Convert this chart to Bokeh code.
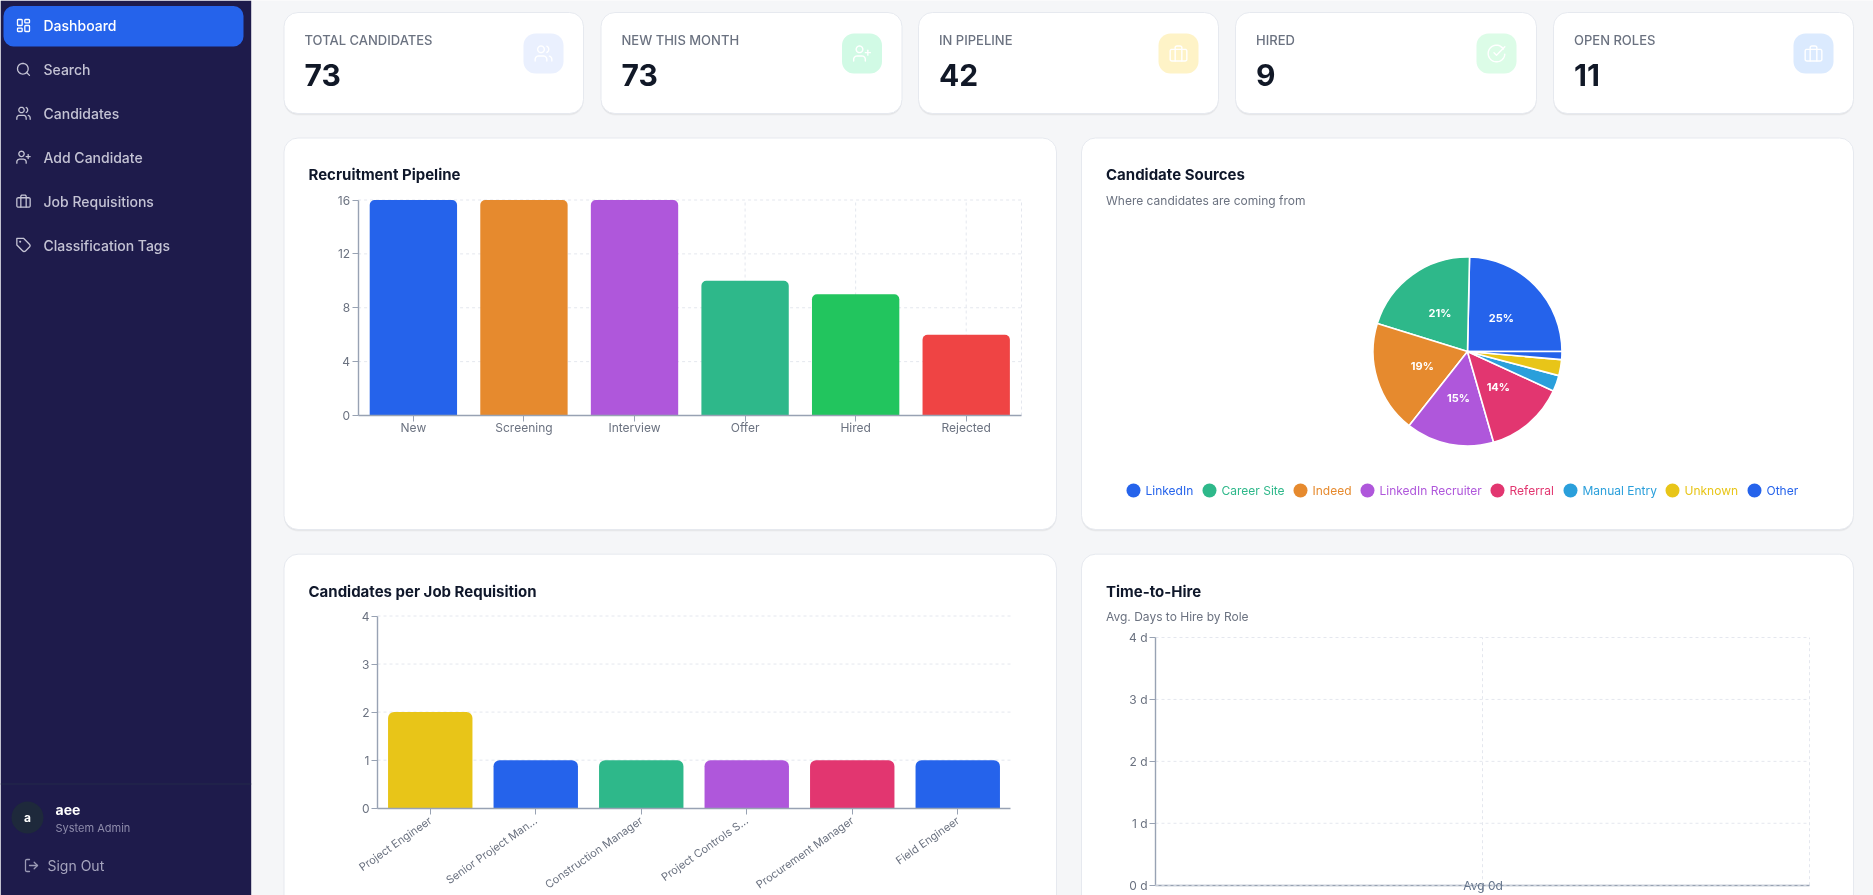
import math
from bokeh.core.properties import value
from bokeh.embed import file_html
from bokeh.resources import INLINE
from bokeh.models import BoxAnnotation, ColumnDataSource, FixedTicker, Label, LinearAxis, Range1d
from bokeh.plotting import figure

# ---------- data ----------
nav_items = ["Dashboard", "Search", "Candidates", "Add Candidate", "Job Requisitions", "Classification Tags"]
stat_labels = ["TOTAL CANDIDATES", "NEW THIS MONTH", "IN PIPELINE", "HIRED", "OPEN ROLES"]
stat_values = ["73", "73", "42", "9", "11"]

pipeline_stages = ["New", "Screening", "Interview", "Offer", "Hired", "Rejected"]
pipeline_counts = [16, 16, 16, 10, 9, 6]
pipeline_ticks = [0, 4, 8, 12, 16]

source_names = ["LinkedIn", "Career Site", "Indeed", "LinkedIn Recruiter", "Referral",
                "Manual Entry", "Unknown", "Other"]
source_counts = [18, 15, 14, 11, 10, 2, 2, 1]

req_roles = ["Project Engineer", "Senior Project Man...", "Construction Manager",
             "Project Controls S...", "Procurement Manager", "Field Engineer"]
req_counts = [2, 1, 1, 1, 1, 1]
req_ticks = [0, 1, 2, 3, 4]

hire_roles = ["Project Engineer"]
hire_days = [0]
hire_ticks = [0, 1, 2, 3, 4]

# ---------- styling ----------
FONT = "Inter"
FONT_MED = "Inter Medium"
PAGE = "#f5f6f8"
BLUE, TEAL, ORANGE, PURPLE, PINK, CYAN, YELLOW, GREEN, RED = (
    "#2563eb", "#2eb88a", "#e68a2e", "#af57db", "#e23670", "#2a9fdb", "#e8c518", "#22c55e", "#ef4444")
pipeline_colors = [BLUE, ORANGE, PURPLE, TEAL, GREEN, RED]
source_colors = [BLUE, TEAL, ORANGE, PURPLE, PINK, CYAN, YELLOW, BLUE]
req_colors = [YELLOW, BLUE, TEAL, PURPLE, PINK, BLUE]
GRID = "#e4e7ee"
AXIS = "#98a2b3"
TICKTXT = "#6b7280"
INK = "#0f172a"
DASH = value([3, 3])
W, H = 1873, 895

# One page-sized figure: its primary ranges are page pixels (y negated).
p = figure(width=W, height=H, output_backend="svg", toolbar_location=None, margin=0, min_border=0,
           x_range=Range1d(0, W), y_range=Range1d(-H, 0), x_axis_type=None, y_axis_type=None,
           styles={"position": "fixed", "left": "0px", "top": "0px"})
p.grid.visible = False
p.background_fill_color = PAGE
p.border_fill_color = PAGE
p.outline_line_color = None


def box(l, t, r, b, color, radius=0, alpha=1.0, line=None):
    p.add_layout(BoxAnnotation(left=l, right=r, top=-t, bottom=-b, fill_color=color, fill_alpha=alpha,
                               line_color=line, line_width=1, line_alpha=1 if line else 0,
                               border_radius=radius, level="image"))


def card(l, t, r, b):
    box(l, t + 2, r, b + 2, "#000000", 14, 0.035)
    box(l, t + 1, r, b + 1, "#000000", 14, 0.05)
    box(l, t, r, b, "#ffffff", 14, 1.0, "#e6e9ef")


def text(x, y, s, size, color=INK, style="normal", align="left", baseline="middle", font=FONT):
    p.add_layout(Label(x=x, y=-(y - 1), text=s, text_font=font, text_font_size=f"{size}px", text_color=color,
                       text_font_style=style, text_align=align, text_baseline=baseline))


def chart_axes(name, fl, ft, fr, fb, factors, ymax, yticks, yfmt=None, verticals=True,
               x_standoff=2, x_size="12px"):
    """Maps a chart's values onto the page box (fl,ft)-(fr,fb) through its own ranges and axes."""
    n = len(factors)
    xn, yn = name + "x", name + "y"
    p.extra_x_ranges[xn] = Range1d((0 - fl) / (fr - fl) * n, (W - fl) / (fr - fl) * n)
    p.extra_y_ranges[yn] = Range1d((fb - H) / (fb - ft) * ymax, fb / (fb - ft) * ymax)
    centers = [i + 0.5 for i in range(n)]

    grid = dict(line_color=GRID, line_dash=DASH, line_width=1, x_range_name=xn, y_range_name=yn)
    yt = [t for t in yticks if t != 0]
    p.segment(x0=[0] * len(yt), x1=[n] * len(yt), y0=yt, y1=yt, **grid)
    if verticals:
        xt = centers + [n]
        p.segment(x0=xt, x1=xt, y0=[0] * len(xt), y1=[ymax] * len(xt), **grid)

    style = dict(axis_line_color=AXIS, axis_line_width=1.4, major_tick_line_color=AXIS, major_tick_out=6,
                 major_tick_in=0, minor_tick_out=0, minor_tick_in=0, major_label_text_font=FONT,
                 major_label_text_color=TICKTXT)
    xa = LinearAxis(x_range_name=xn, fixed_location=-fb, bounds=(0, n), ticker=FixedTicker(ticks=centers),
                    major_label_overrides={c: f for c, f in zip(centers, factors)},
                    major_label_standoff=x_standoff, major_label_text_font_size=x_size, **style)
    ya = LinearAxis(y_range_name=yn, fixed_location=fl, bounds=(0, ymax), ticker=FixedTicker(ticks=yticks),
                    major_label_standoff=2, major_label_text_font_size="12px", **style)
    if yfmt:
        ya.major_label_overrides = {t: yfmt.format(t) for t in yticks}
    p.add_layout(xa, "below")
    p.add_layout(ya, "left")
    return xn, yn, centers, xa


# ---------- icons (lucide-style outlines on a 24-unit grid) ----------
def arc(cx, cy, r, a0, a1, n=14):
    return [(cx + r * math.cos(math.radians(a0 + (a1 - a0) * i / n)),
             cy + r * math.sin(math.radians(a0 + (a1 - a0) * i / n))) for i in range(n + 1)]


def rrect(x, y, w, h, r):
    return (arc(x + r, y + r, r, 180, 270, 5) + arc(x + w - r, y + r, r, 270, 360, 5) +
            arc(x + w - r, y + h - r, r, 0, 90, 5) + arc(x + r, y + h - r, r, 90, 180, 5) + [(x, y + r)])


SHOULDERS = [(16, 21), (16, 19)] + arc(12, 19, 4, 0, -90, 6) + arc(6, 19, 4, -90, -180, 6) + [(2, 21)]
ICONS = {
    "dashboard": [rrect(3, 3, 7, 9, 1), rrect(14, 3, 7, 5, 1), rrect(14, 12, 7, 9, 1), rrect(3, 16, 7, 5, 1)],
    "search": [arc(11, 11, 8, 0, 360, 32), [(21, 21), (16.65, 16.65)]],
    "users": [SHOULDERS, arc(9, 7, 4, 0, 360, 24), [(22, 21), (22, 19)] + arc(18, 19, 4, 0, -75, 5),
              arc(14.1, 7, 4.2, -62, 62, 8)],
    "userplus": [SHOULDERS, arc(9, 7, 4, 0, 360, 24), [(19, 8), (19, 14)], [(22, 11), (16, 11)]],
    "briefcase": [rrect(2, 7, 20, 14, 2), [(16, 21), (16, 5)] + arc(14, 5, 2, 0, -90, 5) + arc(10, 5, 2, -90, -180, 5) + [(8, 21)]],
    "tag": [[(12, 2), (2, 2), (2, 12), (11.3, 21.3), (12.7, 22), (14.7, 21.3), (21.3, 14.7), (22, 13), (21.3, 11.3), (12, 2)],
            arc(7, 7, .6, 0, 360, 10)],
    "check": [arc(12, 12, 10, 5, 327, 40) + [(16.07, 2.86)], [(22, 4), (12, 14.01), (9, 11.01)]],
    "logout": [[(9, 21), (5, 21)] + arc(5, 19, 2, 90, 180, 5) + [(3, 5)] + arc(5, 5, 2, 180, 270, 5) + [(9, 3)],
               [(16, 17), (21, 12), (16, 7)], [(21, 12), (9, 12)]],
}


def icon(name, cx, cy, size, color, width=1.3):
    k = size / 24
    xs = [[cx + (x - 12) * k for x, _ in path] for path in ICONS[name]]
    ys = [[-(cy + (y - 12) * k) for _, y in path] for path in ICONS[name]]
    p.multi_line(xs, ys, line_color=color, line_width=width, line_cap="round", line_join="round")


# ---------- sidebar ----------
box(0, 0, 250.7, 895, "#1e1b4b")
box(3, 5.5, 243, 46, BLUE, 10)
nav_icons = ["dashboard", "search", "users", "userplus", "briefcase", "tag"]
for i, (name, ic) in enumerate(zip(nav_items, nav_icons)):
    y = 26 + 43.9 * i
    col = "#ffffff" if i == 0 else "#c4c3d4"
    icon(ic, 23, y - 1, 16, col)
    text(43, y, name, 14, col, font=FONT_MED)
p.segment(0, -783.5, 250.7, -783.5, line_color="#232a4a", line_width=1)
p.circle(27, -817, radius=16, fill_color="#1e293b", line_color=None)
text(27, 818, "a", 12, "#ffffff", "bold", "center")
text(55, 810, "aee", 14, "#ffffff", "bold")
text(55, 828, "System Admin", 11, "#8e8cab")
icon("logout", 31, 865, 16, "#9b9ab5")
text(47, 866, "Sign Out", 14, "#a5a4bd")

# ---------- stat cards ----------
card_lefts = [283.5, 600.5, 918, 1235, 1553]
card_rights = [583, 901.5, 1218, 1536, 1853]
tiles = ["#eaf0fe", "#d1fae5", "#fef3c7", "#dcfce7", "#dbeafe"]
stat_icons = ["users", "userplus", "briefcase", "check", "briefcase"]
for l, r, lab, val, tile, ic in zip(card_lefts, card_rights, stat_labels, stat_values, tiles, stat_icons):
    card(l, 12, r, 113)
    text(l + 20.5, 40.7, lab, 13, "#6b7280", font=FONT_MED)
    text(l + 20.5, 75, val, 30, "#111827", "bold")
    box(r - 60, 33, r - 20, 73, tile, 12)
    icon(ic, r - 40, 53, 20, "#ffffff", 1.4)

# ---------- recruitment pipeline ----------
card(283.5, 137.5, 1056, 529)
text(308, 175, "Recruitment Pipeline", 15, INK, "bold")
xn, yn, ctr, _ = chart_axes("c1", 357.6, 199.5, 1021, 415, pipeline_stages, 16, pipeline_ticks, x_standoff=-2)
p.vbar(x="x", top="y", width=0.79, color="c", line_color=None, border_radius=(5, 5, 0, 0),
       x_range_name=xn, y_range_name=yn,
       source=ColumnDataSource(dict(x=ctr, y=pipeline_counts, c=pipeline_colors)))

# ---------- candidate sources ----------
card(1081, 137.5, 1853, 529)
text(1105.5, 175, "Candidate Sources", 15, INK, "bold")
text(1105.5, 200.7, "Where candidates are coming from", 12, "#6b7280")
PIE_X, PIE_Y, PIE_R = 1467, -351, 94.5
total = sum(source_counts)
angles = [0.0]
for v in source_counts:
    angles.append(angles[-1] + v / total * 2 * math.pi)
p.wedge(x=PIE_X, y=PIE_Y, radius=PIE_R, start_angle=angles[:-1], end_angle=angles[1:],
        fill_color=source_colors, line_color="#ffffff", line_width=1.6, direction="anticlock")
for v, a0, a1 in zip(source_counts, angles[:-1], angles[1:]):
    if v / total >= 0.05:
        mid = (a0 + a1) / 2
        p.text(x=[PIE_X + PIE_R / 2 * math.cos(mid)], y=[PIE_Y + PIE_R / 2 * math.sin(mid)],
               text=[f"{v / total * 100:.0f}%"], text_font=value(FONT), text_font_size="11px",
               text_font_style="bold", text_color="#ffffff", text_align="center", text_baseline="middle")
leg_dots = [1133, 1209, 1300, 1367, 1497, 1570, 1672, 1754]
for dx, name, col in zip(leg_dots, source_names, source_colors):
    p.circle(dx, -490, radius=7, fill_color=col, line_color=None)
    text(dx + 12, 491, name, 12, col)

# ---------- candidates per job requisition ----------
card(283.5, 553.7, 1056, 925)
text(308, 591.7, "Candidates per Job Requisition", 15, INK, "bold")
xn, yn, ctr, xa3 = chart_axes("c3", 377, 615.5, 1010, 807.7, req_roles, 4, req_ticks, verticals=False,
                              x_standoff=5, x_size="11px")
xa3.major_label_orientation = math.radians(35)
p.vbar(x="x", top="y", width=0.8, color="c", line_color=None, border_radius=(6, 6, 0, 0),
       x_range_name=xn, y_range_name=yn,
       source=ColumnDataSource(dict(x=ctr, y=req_counts, c=req_colors)))

# ---------- time to hire ----------
card(1081, 553.7, 1853, 925)
text(1105.5, 591.7, "Time-to-Hire", 15, INK, "bold")
text(1105.5, 616.7, "Avg. Days to Hire by Role", 12, "#6b7280")
xn, yn, ctr, _ = chart_axes("c4", 1155, 637, 1809, 884.7, hire_roles, 4, hire_ticks, yfmt="{} d")
p.vbar(x=ctr, top=hire_days, width=0.8, color=BLUE, line_color=None, x_range_name=xn, y_range_name=yn)
p.segment(x0=[0], x1=[len(hire_roles)], y0=[0], y1=[0], line_color=GRID, line_dash=DASH,
          x_range_name=xn, y_range_name=yn, level="overlay")
text(1482.6, 886, f"Avg {hire_days[0]}d", 12, "#64748b", align="center")

open("out.html", "w").write(file_html(p, INLINE))
